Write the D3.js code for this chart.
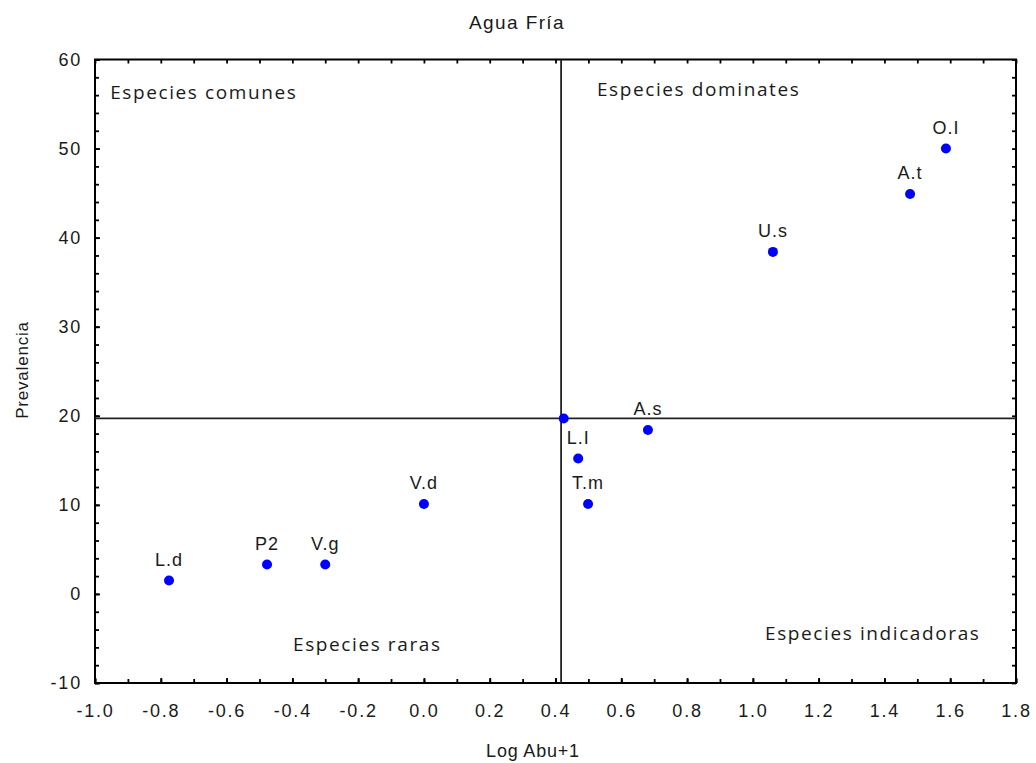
<!DOCTYPE html>
<html>
<head>
<meta charset="utf-8">
<script src="https://cdn.jsdelivr.net/npm/d3@7"></script>
<style>
  body { margin: 0; background: #fff; }
  svg text { fill: #1a1a1a; }
</style>
</head>
<body>
<div id="chart"></div>
<script>
// species codes and their coordinates
const species = ["L.d", "P2", "V.g", "V.d", "", "L.I", "T.m", "A.s", "U.s", "A.t", "O.I"];
const logAbu = [-0.775, -0.477, -0.30, 0.0, 0.425, 0.469, 0.499, 0.681, 1.061, 1.478, 1.587];
const prevalencia = [1.5, 3.3, 3.3, 10.1, 19.7, 15.2, 10.1, 18.4, 38.4, 44.9, 50.0];

const xTicks = [-1.0, -0.8, -0.6, -0.4, -0.2, 0.0, 0.2, 0.4, 0.6, 0.8, 1.0, 1.2, 1.4, 1.6, 1.8];
const yTicks = [-10, 0, 10, 20, 30, 40, 50, 60];

// reference lines splitting the quadrants
const cutX = 0.417;
const cutY = 19.7;

const quadrants = [
  { text: "Especies comunes", x: -0.954, y: 55.6 },
  { text: "Especies dominates", x: 0.526, y: 55.95 },
  { text: "Especies raras", x: -0.398, y: -6.4 },
  { text: "Especies indicadoras", x: 1.037, y: -5.17 }
];

const width = 1036;
const height = 763;
const area = { left: 95, right: 1016, top: 59.5, bottom: 683 };

const svg = d3.select("#chart").append("svg")
  .attr("width", width)
  .attr("height", height)
  .style("font-family", "'Liberation Sans', Arial, sans-serif");

const x = d3.scaleLinear().domain([-1, 1.8]).range([area.left, area.right]);
const y = d3.scaleLinear().domain([-10, 60]).range([area.bottom, area.top]);

const minorX = d3.range(-1, 1.81, 0.1);
const minorY = d3.range(-10, 61, 2);

// ticks point into the plot on all four sides
function styleAxis(g) {
  g.select(".domain").remove();
  g.selectAll(".tick line").attr("stroke", "#000").attr("stroke-width", 1.8);
  g.selectAll(".tick text")
    .attr("font-size", 18)
    .attr("letter-spacing", 1.8)
    .attr("fill", "#1a1a1a");
}

svg.append("g")
  .attr("transform", `translate(0,${area.bottom})`)
  .call(d3.axisBottom(x).tickValues(minorX).tickSize(-4).tickFormat(""))
  .call(styleAxis);
svg.append("g")
  .attr("transform", `translate(0,${area.bottom})`)
  .call(d3.axisBottom(x).tickValues(xTicks).tickSize(-5).tickPadding(21).tickFormat(d => d3.format(".1f")(d).replace("−", "-")))
  .call(styleAxis);

svg.append("g")
  .attr("transform", `translate(0,${area.top})`)
  .call(d3.axisTop(x).tickValues(minorX).tickSize(-4).tickFormat(""))
  .call(styleAxis);

svg.append("g")
  .attr("transform", `translate(${area.left},0)`)
  .call(d3.axisLeft(y).tickValues(minorY).tickSize(-4).tickFormat(""))
  .call(styleAxis);
svg.append("g")
  .attr("transform", `translate(${area.left},0)`)
  .call(d3.axisLeft(y).tickValues(yTicks).tickSize(-5).tickPadding(13).tickFormat(d => String(d)))
  .call(styleAxis);

svg.append("g")
  .attr("transform", `translate(${area.right},0)`)
  .call(d3.axisRight(y).tickValues(minorY).tickSize(-4).tickFormat(""))
  .call(styleAxis);

// frame
svg.append("rect")
  .attr("x", area.left)
  .attr("y", area.top)
  .attr("width", area.right - area.left)
  .attr("height", area.bottom - area.top)
  .attr("fill", "none")
  .attr("stroke", "#000")
  .attr("stroke-width", 2);

// quadrant lines
svg.append("line")
  .attr("x1", x(cutX)).attr("x2", x(cutX))
  .attr("y1", area.top).attr("y2", area.bottom)
  .attr("stroke", "#222").attr("stroke-width", 1.8);
svg.append("line")
  .attr("x1", area.left).attr("x2", area.right)
  .attr("y1", y(cutY)).attr("y2", y(cutY))
  .attr("stroke", "#222").attr("stroke-width", 1.8);

// quadrant names
svg.append("g").selectAll("text")
  .data(quadrants)
  .join("text")
  .attr("x", d => x(d.x))
  .attr("y", d => y(d.y))
  .attr("font-family", "'Open Sans', Lato, sans-serif")
  .attr("font-size", 19)
  .attr("letter-spacing", 1.6)
  .attr("fill", "#1a1a1a")
  .text(d => d.text);

const points = species.map((s, i) => ({ name: s, x: logAbu[i], y: prevalencia[i] }));

svg.append("g").selectAll("circle")
  .data(points)
  .join("circle")
  .attr("cx", d => x(d.x))
  .attr("cy", d => y(d.y))
  .attr("r", 5)
  .attr("fill", "#0000ff");

svg.append("g").selectAll("text")
  .data(points.filter(d => d.name))
  .join("text")
  .attr("x", d => x(d.x))
  .attr("y", d => y(d.y) - 15)
  .attr("text-anchor", "middle")
  .attr("font-size", 18)
  .attr("letter-spacing", 1)
  .text(d => d.name);

// titles
svg.append("text")
  .attr("x", 517).attr("y", 29)
  .attr("text-anchor", "middle")
  .attr("font-size", 19)
  .attr("letter-spacing", 1.4)
  .text("Agua Fría");

svg.append("text")
  .attr("x", 533).attr("y", 757)
  .attr("text-anchor", "middle")
  .attr("font-size", 18)
  .attr("letter-spacing", 0.8)
  .text("Log Abu+1");

svg.append("text")
  .attr("transform", "translate(28,370) rotate(-90)")
  .attr("text-anchor", "middle")
  .attr("font-size", 17)
  .attr("letter-spacing", 0.8)
  .text("Prevalencia");
</script>
</body>
</html>
